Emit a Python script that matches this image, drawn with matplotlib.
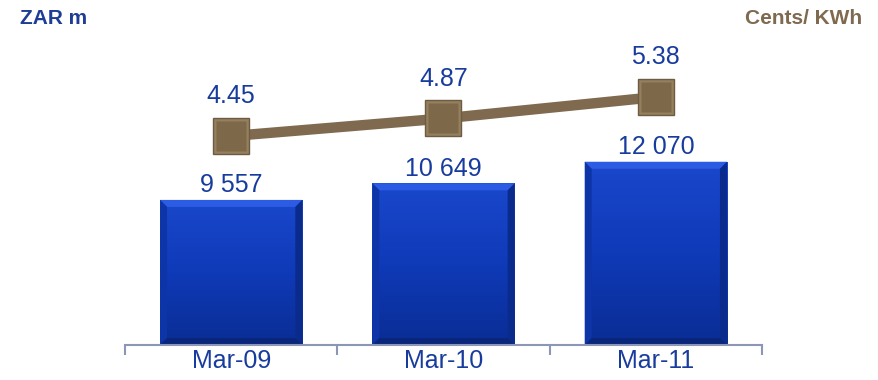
import matplotlib.pyplot as plt
import numpy as np
from matplotlib.colors import LinearSegmentedColormap
from matplotlib.patches import Polygon

plt.rcParams['font.family'] = ['Liberation Sans', 'DejaVu Sans']

categories = ['Mar-09', 'Mar-10', 'Mar-11']
revenue = [9557, 10649, 12070]          # ZAR m
revenue_labels = ['9 557', '10 649', '12 070']
tariff = [4.45, 4.87, 5.38]             # Cents/ KWh

BLUE_TEXT = '#183C9E'
BROWN = '#7F6A4F'

fig = plt.figure(figsize=(8.79, 3.80), dpi=100)
ax = fig.add_axes([125 / 879, 35 / 380, 637 / 879, 305 / 380])
ax2 = ax.twinx()

x = np.arange(len(categories))
width = 0.67
ax.set_xlim(-0.5, 2.5)
ax.set_ylim(0, 20090)
ax2.set_ylim(-0.53, 6.74)

# pixel sizes in data units, for the bevel edges
px_x = 3.0 / 637
px_y = 20090 / 305

grad_cmap = LinearSegmentedColormap.from_list('barblue', ['#0A2D94', '#0F3AB8', '#1A48CC'])
gradient = np.linspace(0, 1, 256).reshape(-1, 1)

bars = ax.bar(x, revenue, width, color='#0F3AB8', zorder=2)
for bar, val in zip(bars, revenue):
    x0 = bar.get_x()
    x1 = x0 + bar.get_width()
    im = ax.imshow(gradient, cmap=grad_cmap, aspect='auto', origin='lower',
                   extent=[x0, x1, 0, val], zorder=2.1)
    im.set_clip_path(bar)
    b = 7
    bx, by = b * px_x, b * px_y
    # bevel: light top, darker sides
    ax.add_patch(Polygon([[x0, val], [x1, val], [x1 - bx, val - by], [x0 + bx, val - by]],
                         closed=True, color='#2D5CE4', lw=0, zorder=2.2))
    ax.add_patch(Polygon([[x0, 0], [x0, val], [x0 + bx, val - by], [x0 + bx, by]],
                         closed=True, color='#0E35A8', lw=0, zorder=2.2))
    ax.add_patch(Polygon([[x1, 0], [x1, val], [x1 - bx, val - by], [x1 - bx, by]],
                         closed=True, color='#0B2B8C', lw=0, zorder=2.2))
    ax.add_patch(Polygon([[x0, 0], [x1, 0], [x1 - bx, by], [x0 + bx, by]],
                         closed=True, color='#09267A', lw=0, zorder=2.2))

for xi, val, lab in zip(x, revenue, revenue_labels):
    ax.annotate(lab, (xi, val), xytext=(0, 2), textcoords='offset points',
                ha='center', va='bottom', fontsize=18, color=BLUE_TEXT)

ax2.plot(x, tariff, color=BROWN, lw=7.5, solid_capstyle='butt', zorder=3)
ax2.plot(x, tariff, 's', ms=26, mfc='#94805F', mec='#6E5B41', mew=1.0, zorder=4)
ax2.plot(x, tariff, 's', ms=21, mfc='#7D6849', mec='none', zorder=5)
for xi, val in zip(x, tariff):
    ax2.annotate(f'{val:.2f}', (xi, val), xytext=(0, 20), textcoords='offset points',
                 ha='center', va='bottom', fontsize=18, color=BLUE_TEXT)

# category axis: baseline with dividing ticks below
for a in (ax, ax2):
    for side in ('top', 'right', 'left'):
        a.spines[side].set_visible(False)
    a.set_yticks([])
ax2.spines['bottom'].set_visible(False)
ax.spines['bottom'].set_color('#8C96B8')
ax.spines['bottom'].set_linewidth(1.5)
ax.set_xticks([-0.5, 0.5, 1.5, 2.5])
ax.set_xticklabels([])
ax.tick_params(axis='x', length=7, width=1.5, color='#8C96B8', direction='out')
for xi, cat in zip(x, categories):
    ax.text(xi, -0.012, cat, transform=ax.get_xaxis_transform(), ha='center', va='top',
            fontsize=18, color=BLUE_TEXT)

fig.text(20 / 879, 1 - 19 / 380, 'ZAR m', fontsize=15, fontweight='bold',
         color='#1F3C96', va='center', ha='left')
fig.text(862 / 879, 1 - 19 / 380, 'Cents/ KWh', fontsize=15, fontweight='bold',
         color=BROWN, va='center', ha='right')

fig.savefig('out.png', dpi=100)
